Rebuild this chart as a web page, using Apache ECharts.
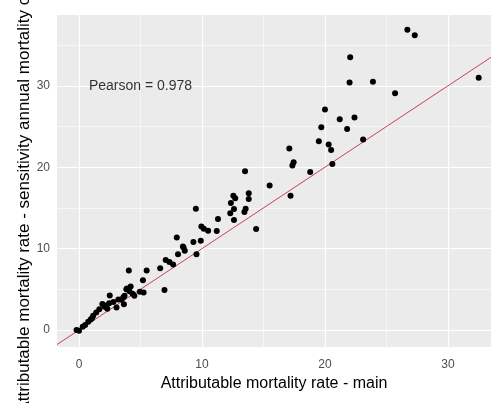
<!DOCTYPE html>
<html>
<head>
<meta charset="utf-8">
<script src="https://cdn.jsdelivr.net/npm/echarts@6/dist/echarts.min.js"></script>
<style>
  html, body { margin: 0; padding: 0; background: #ffffff; }
  #chart { width: 491px; height: 403px; }
</style>
</head>
<body>
<div id="chart"></div>
<script>
// Attributable mortality rate: main analysis vs. sensitivity analysis
const mainRate = [
  26.7, 27.3, 32.5, 22.05, 22.0, 23.9, 25.7, 20.0, 21.2, 22.4,
  19.7, 21.8, 19.5, 23.1, 20.3, 20.5, 20.6, 18.8, 17.1, 17.45,
  17.35, 15.5, 17.2, 13.5, 9.5, 12.55, 12.7, 12.35, 12.6, 12.3,
  12.6, 13.8, 13.8, 13.55, 13.45, 14.4, 11.3, 11.2, 9.95, 10.15,
  10.5, 9.3, 9.9, 8.5, 7.95, 8.05, 8.45, 8.6, 9.55, 7.05,
  7.35, 7.65, 6.6, 4.05, 5.5, 5.2, 6.95, 3.9, 4.2, 4.1,
  4.35, 4.95, 5.25, 2.5, 3.6, 3.45, 3.7, 3.2, 2.8, 3.05,
  2.2, 2.45, 1.9, 1.65, 1.4, 1.15, 0.95, 0.75, 0.5, 0.3,
  -0.2, 0.0, 3.65, 2.3, 2.1, 1.05, 4.5, 3.85
];
const sensitivityRate = [
  36.9, 36.2, 31.0, 33.5, 30.4, 30.5, 29.1, 27.1, 25.9, 26.1,
  24.9, 24.7, 23.2, 23.4, 22.8, 22.1, 20.4, 19.4, 22.3, 20.6,
  20.2, 17.75, 16.5, 19.5, 14.9, 16.5, 16.2, 15.6, 14.85, 14.35,
  13.5, 16.8, 16.1, 14.9, 14.5, 12.4, 13.65, 12.15, 12.7, 12.45,
  12.2, 10.8, 10.95, 10.15, 11.35, 9.3, 10.25, 9.75, 9.3, 8.6,
  8.35, 8.05, 7.6, 7.3, 7.3, 6.1, 4.9, 5.1, 5.35, 4.75,
  4.45, 4.7, 4.6, 4.25, 4.0, 3.75, 4.2, 3.75, 3.45, 2.75,
  3.0, 3.3, 3.2, 2.55, 2.15, 1.75, 1.3, 1.0, 0.6, 0.4,
  0.0, -0.1, 3.15, 2.6, 2.85, 1.45, 4.2, 5.0
];

const xRange = [-1.79, 33.5];
const yRange = [-2.09, 38.7];
const xMajor = [0, 10, 20, 30];
const xMinor = [5, 15, 25];
const yMajor = [0, 10, 20, 30];
const yMinor = [5, 15, 25, 35];
const pearson = 0.978;
const pearsonAt = [5, 30];

const FONT = '"Liberation Sans", Arial, sans-serif';

const gridLines = [];
xMinor.forEach(v => gridLines.push({ xAxis: v, lineStyle: { color: '#ffffff', width: 0.6, type: 'solid' } }));
yMinor.forEach(v => gridLines.push({ yAxis: v, lineStyle: { color: '#ffffff', width: 0.6, type: 'solid' } }));
xMajor.forEach(v => gridLines.push({ xAxis: v, lineStyle: { color: '#ffffff', width: 1.2, type: 'solid' } }));
yMajor.forEach(v => gridLines.push({ yAxis: v, lineStyle: { color: '#ffffff', width: 1.2, type: 'solid' } }));

const points = mainRate.map((x, i) => [x, sensitivityRate[i]]);

const chart = echarts.init(document.getElementById('chart'), null, { renderer: 'canvas' });
chart.setOption({
  animation: false,
  backgroundColor: '#ffffff',
  textStyle: { fontFamily: FONT },
  grid: {
    left: 57, top: 15, right: 0, bottom: 56,
    outerBoundsMode: 'none',
    containLabel: false,
    show: true, backgroundColor: '#ebebeb', borderWidth: 0
  },
  xAxis: {
    type: 'value',
    min: xRange[0], max: xRange[1],
    name: 'Attributable mortality rate - main',
    nameLocation: 'middle',
    nameGap: 25,
    nameTextStyle: { color: '#000000', fontSize: 16, fontFamily: FONT },
    axisLine: { show: false },
    splitLine: { show: false },
    axisTick: { show: true, customValues: xMajor, length: 4, lineStyle: { color: '#333333', width: 1 } },
    axisLabel: { customValues: xMajor, color: '#4d4d4d', fontSize: 12, margin: 12, fontFamily: FONT }
  },
  yAxis: {
    type: 'value',
    min: yRange[0], max: yRange[1],
    name: 'Attributable mortality rate - sensitivity annual mortality change',
    nameLocation: 'middle',
    nameMoveOverlap: false,
    nameGap: 24,
    nameTextStyle: { color: '#000000', fontSize: 17, fontFamily: FONT },
    axisLine: { show: false },
    splitLine: { show: false },
    axisTick: { show: true, customValues: yMajor, length: 4, lineStyle: { color: '#333333', width: 1 } },
    axisLabel: { customValues: yMajor, color: '#4d4d4d', fontSize: 12, margin: 7, fontFamily: FONT }
  },
  series: [
    {
      // panel grid lines
      type: 'line',
      data: [],
      z: 1,
      silent: true,
      markLine: {
        z: 1,
        silent: true,
        symbol: ['none', 'none'],
        label: { show: false },
        animation: false,
        data: gridLines
      }
    },
    {
      // identity line y = x
      type: 'line',
      data: [[xRange[0], xRange[0]], [xRange[1], xRange[1]]],
      showSymbol: false,
      symbol: 'none',
      clip: true,
      z: 2,
      lineStyle: { color: '#c4303a', width: 0.9 }
    },
    {
      type: 'scatter',
      data: points,
      symbol: 'circle',
      symbolSize: 6,
      z: 3,
      itemStyle: { color: '#000000', opacity: 1 }
    },
    {
      type: 'scatter',
      data: [pearsonAt],
      symbolSize: 0,
      z: 4,
      label: {
        show: true,
        position: 'inside',
        formatter: 'Pearson = ' + pearson.toFixed(3),
        color: '#000000',
        fontSize: 14,
        fontFamily: FONT
      }
    }
  ]
});
</script>
</body>
</html>
